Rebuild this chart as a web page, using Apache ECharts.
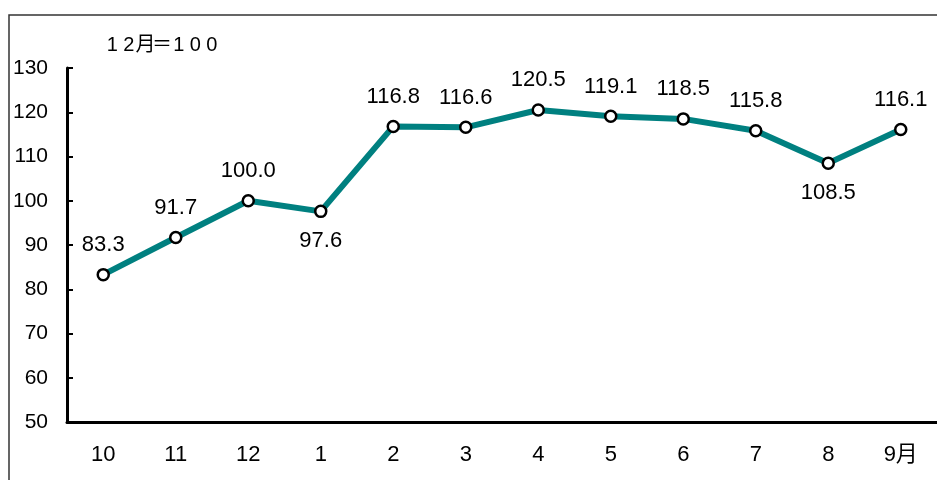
<!DOCTYPE html>
<html><head><meta charset="utf-8">
<script src="https://cdn.jsdelivr.net/npm/echarts@6/dist/echarts.min.js"></script>
<style>html,body{margin:0;padding:0;background:#fff}#c{width:937px;height:480px}</style>
</head><body><div id="c"></div>
<script>
const categories = ['10','11','12','1','2','3','4','5','6','7','8','9月'];
const values = [83.3, 91.7, 100.0, 97.6, 116.8, 116.6, 120.5, 119.1, 118.5, 115.8, 108.5, 116.1];
const labelBelow = ['1','8'];
const yTicks = {min:50, max:130, interval:10};
const note = '12月＝100';

const chart = echarts.init(document.getElementById('c'), null, {renderer:'canvas'});
const font = '"Liberation Sans", "Noto Sans CJK JP", sans-serif';
const noteRich = Array.from(note).map(ch => '{a|' + ch + '}').join('');
chart.setOption({
  animation:false,
  backgroundColor:'#fff',
  graphic:[
    {type:'rect', shape:{x:9, y:15, width:1000, height:500}, style:{fill:'none', stroke:'#333', lineWidth:1.5}}
  ],
  title:{text:noteRich, left:104, top:35, padding:0,
    textStyle:{fontSize:20, fontWeight:'normal', fontFamily:font, color:'#000',
      rich:{a:{width:16.6, align:'center', fontSize:20, fontWeight:'normal', fontFamily:font, color:'#000'}}}},
  grid:{left:67, top:68, width:878, height:354},
  xAxis:{type:'category', data:categories, boundaryGap:true,
    axisLine:{lineStyle:{color:'#000', width:3}},
    axisTick:{inside:true, length:6, lineStyle:{color:'#000', width:2}},
    axisLabel:{color:'#000', fontSize:22, fontFamily:font, margin:22}},
  yAxis:{type:'value', min:yTicks.min, max:yTicks.max, interval:yTicks.interval,
    splitLine:{show:false},
    axisLine:{show:true, lineStyle:{color:'#000', width:3}},
    axisTick:{show:true, inside:true, length:6, lineStyle:{color:'#000', width:2}},
    axisLabel:{color:'#000', fontSize:21, fontFamily:font, margin:19}},
  series:[{
    type:'line',
    data: values.map((v,i)=>({value:v, label:{position: labelBelow.includes(categories[i]) ? 'bottom':'top'}})),
    lineStyle:{color:'#008080', width:6},
    symbol:'circle', symbolSize:11,
    itemStyle:{color:'#fff', borderColor:'#000', borderWidth:2.5},
    label:{show:true, fontSize:22, fontFamily:font, color:'#000', distance:12,
      formatter:p=>p.value.toFixed(1)}
  }]
});
</script></body></html>
